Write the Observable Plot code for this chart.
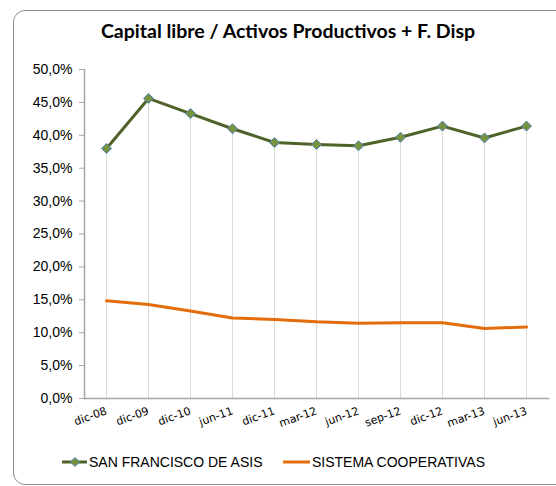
<!DOCTYPE html>
<html>
<head>
<meta charset="utf-8">
<script src="https://cdn.jsdelivr.net/npm/d3@7"></script>
<script src="https://cdn.jsdelivr.net/npm/@observablehq/plot@0.6"></script>
<style>
  html, body { margin: 0; padding: 0; background: #fff; }
  #wrap { position: relative; width: 556px; height: 486px; overflow: hidden; }
  #box { position: absolute; left: 13px; top: 10px; width: 580px; height: 475px; border: 1px solid #8c8c8c; border-radius: 12px; box-sizing: border-box; }
  #title { position: absolute; left: 0; top: 19px; width: 576px; text-align: center; font-family: Lato, "Open Sans", sans-serif; font-weight: bold; font-size: 19.5px; color: #000; }
  #chart { position: absolute; left: 0; top: 55px; }
  #legend { position: absolute; left: 0; top: 452px; width: 556px; height: 20px; font-family: "Liberation Sans", Arial, sans-serif; font-size: 14px; color: #000; }
  .item { position: absolute; top: 0; display: flex; align-items: center; height: 20px; }
  .item svg { margin-right: 2px; }
</style>
</head>
<body>
<div id="wrap">
  <div id="box"></div>
  <div id="title">Capital libre / Activos Productivos + F. Disp</div>
  <div id="chart"></div>
  <div id="legend">
    <div class="item" style="left:62px"><svg width="25" height="12"><line x1="0" x2="25" y1="6" y2="6" stroke="#4f6228" stroke-width="3"/><path d="M13,1.5 L17.5,6 L13,10.5 L8.5,6 Z" fill="#77933c" stroke="#4f81bd" stroke-width="1"/></svg><span>SAN FRANCISCO DE ASIS</span></div>
    <div class="item" style="left:283px"><svg width="27" height="12"><line x1="0" x2="27" y1="6" y2="6" stroke="#e46c0a" stroke-width="3"/></svg><span>SISTEMA COOPERATIVAS</span></div>
  </div>
</div>
<script>
const categories = ["dic-08","dic-09","dic-10","jun-11","dic-11","mar-12","jun-12","sep-12","dic-12","mar-13","jun-13"];
const sanFrancisco = [38.0, 45.6, 43.3, 41.0, 38.9, 38.6, 38.4, 39.7, 41.4, 39.6, 41.4];
const sistema = [14.85, 14.3, 13.3, 12.25, 12.0, 11.65, 11.45, 11.5, 11.5, 10.65, 10.85];
const yTicks = [0, 5, 10, 15, 20, 25, 30, 35, 40, 45, 50];

const data = categories.map((c, i) => ({cat: c, sf: sanFrancisco[i], sc: sistema[i]}));
const fmt = d => d.toFixed(1).replace(".", ",") + "%";

const chart = Plot.plot({
  width: 556,
  height: 385,
  marginLeft: 84,
  marginRight: 8,
  marginTop: 14,
  marginBottom: 42,
  style: {fontFamily: "'Liberation Sans', Arial, sans-serif", background: "transparent", overflow: "visible"},
  x: {type: "point", domain: categories, padding: 0.5, label: null},
  y: {domain: [0, 50], label: null},
  marks: [
    Plot.ruleX(data, {x: "cat", y1: 0, y2: "sf", stroke: "#d9d9d9", strokeWidth: 1}),
    Plot.frame({anchor: "left", stroke: "#a6a6a6", strokeWidth: 1.5}),
    Plot.frame({anchor: "bottom", stroke: "#a6a6a6", strokeWidth: 1.5}),
    Plot.axisY({ticks: yTicks, tickFormat: fmt, tickSize: 5, tickPadding: 7, stroke: "#a6a6a6", fontSize: 14, fill: "#000"}),
    Plot.axisX({tickSize: 0, tickPadding: 12, tickRotate: -20, fontSize: 11, fill: "#000", fontFamily: "'DejaVu Sans', Verdana, sans-serif"}),
    Plot.line(data, {x: "cat", y: "sc", stroke: "#e46c0a", strokeWidth: 3}),
    Plot.line(data, {x: "cat", y: "sf", stroke: "#4f6228", strokeWidth: 3}),
    Plot.dot(data, {x: "cat", y: "sf", symbol: "diamond2", r: 4.5, fill: "#77933c", stroke: "#4f81bd", strokeWidth: 1})
  ]
});
document.getElementById("chart").appendChild(chart);
</script>
</body>
</html>
